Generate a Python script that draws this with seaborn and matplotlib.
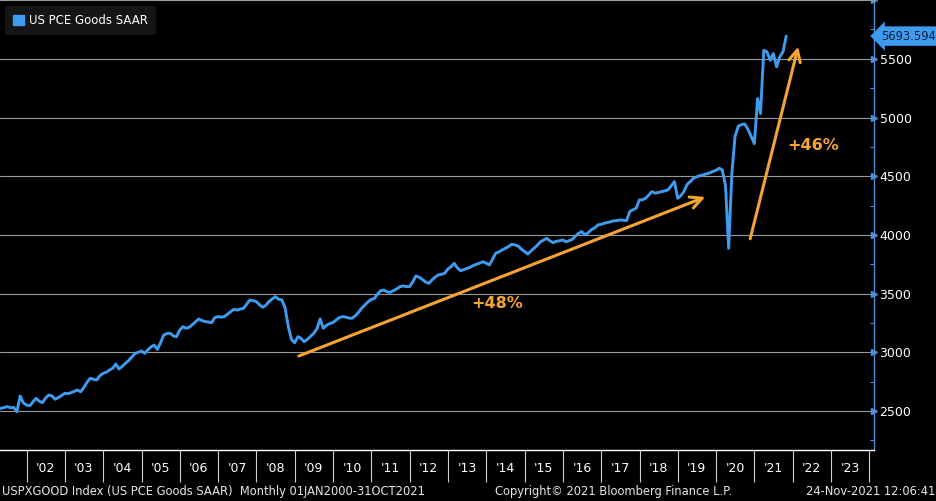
import numpy as np
import pandas as pd
import matplotlib
matplotlib.use("Agg")
import matplotlib.pyplot as plt
import matplotlib.dates as mdates
from matplotlib.patches import Patch
from matplotlib.ticker import FixedLocator, MultipleLocator
import seaborn as sns

# US PCE Goods SAAR, monthly (month-end)
pce_2001 = [2515, 2523, 2530, 2537, 2528, 2531, 2494, 2628, 2570, 2551]  # Mar-Dec
pce_2002 = [2545, 2575, 2608, 2585, 2571, 2610, 2636, 2628, 2600, 2615, 2632, 2651]
pce_2003 = [2648, 2656, 2668, 2679, 2664, 2700, 2745, 2779, 2770, 2764, 2800, 2821]
pce_2004 = [2830, 2849, 2864, 2900, 2858, 2880, 2906, 2930, 2960, 2991, 3000, 3011]
pce_2005 = [2991, 3020, 3045, 3062, 3025, 3080, 3147, 3160, 3162, 3140, 3133, 3190]
pce_2006 = [3218, 3205, 3213, 3235, 3260, 3284, 3270, 3262, 3258, 3253, 3295, 3304]
pce_2007 = [3300, 3304, 3325, 3345, 3366, 3360, 3368, 3375, 3410, 3446, 3440, 3432]
pce_2008 = [3405, 3384, 3400, 3432, 3455, 3474, 3452, 3446, 3380, 3219, 3110, 3082]
pce_2009 = [3133, 3120, 3091, 3110, 3135, 3162, 3200, 3284, 3205, 3230, 3245, 3253]
pce_2010 = [3275, 3295, 3304, 3300, 3292, 3290, 3310, 3340, 3375, 3403, 3430, 3450]
pce_2011 = [3460, 3495, 3525, 3530, 3515, 3511, 3525, 3540, 3559, 3565, 3560, 3559]
pce_2012 = [3600, 3650, 3640, 3622, 3600, 3587, 3615, 3640, 3659, 3665, 3673, 3710]
pce_2013 = [3730, 3758, 3720, 3695, 3705, 3715, 3724, 3740, 3750, 3760, 3772, 3760]
pce_2014 = [3744, 3790, 3843, 3855, 3871, 3885, 3900, 3920, 3915, 3905, 3880, 3860]
pce_2015 = [3837, 3860, 3886, 3910, 3940, 3955, 3971, 3950, 3934, 3945, 3950, 3957]
pce_2016 = [3942, 3950, 3963, 3990, 4014, 4028, 4000, 4020, 4045, 4060, 4085, 4090]
pce_2017 = [4100, 4105, 4113, 4120, 4122, 4128, 4125, 4122, 4199, 4215, 4227, 4298]
pce_2018 = [4300, 4312, 4340, 4369, 4355, 4362, 4369, 4375, 4384, 4420, 4454, 4312]
pce_2019 = [4335, 4369, 4430, 4454, 4483, 4495, 4505, 4511, 4520, 4528, 4540, 4550]
pce_2020 = [4568, 4554, 4420, 3886, 4528, 4840, 4926, 4940, 4945, 4900, 4840, 4778]
pce_2021 = [5162, 5034, 5573, 5559, 5488, 5545, 5432, 5517, 5559, 5693.594]  # Jan-Oct

values = (pce_2001 + pce_2002 + pce_2003 + pce_2004 + pce_2005 + pce_2006 + pce_2007
          + pce_2008 + pce_2009 + pce_2010 + pce_2011 + pce_2012 + pce_2013 + pce_2014
          + pce_2015 + pce_2016 + pce_2017 + pce_2018 + pce_2019 + pce_2020 + pce_2021)
dates = pd.date_range("2001-03-31", periods=len(values), freq="ME")
df = pd.DataFrame({"date": dates, "value": values})

label_years = list(range(2002, 2024))
y_major = [2500, 3000, 3500, 4000, 4500, 5000, 5500]

# arrows (start, end) and their labels
arrow1 = (("2009-01-15", 2960), ("2019-10-15", 4332))
arrow2 = (("2020-11-15", 3944), ("2022-03-01", 5627))
label1 = ("+48%", "2014-04-15", 3420)
label2 = ("+46%", "2022-07-15", 4758)

BLUE = "#3e9cf0"
ORANGE = "#f5a333"
AXBLUE = "#4a8fd8"

sns.set_theme(style="dark", rc={"axes.facecolor": "black", "figure.facecolor": "black"})
plt.rcParams["font.family"] = ["DejaVu Sans"]

fig = plt.figure(figsize=(9.37, 5.01), dpi=100)
ax = fig.add_axes([0, 0.1018, 874 / 937, 0.8982])

sns.lineplot(data=df, x="date", y="value", ax=ax, color=BLUE, lw=2.1)

ax.set_xlim(pd.Timestamp("2001-04-22"), pd.Timestamp("2024-02-15"))
ax.set_ylim(2168, 6001)
ax.set_xlabel("")
ax.set_ylabel("")

# y axis on the right, Bloomberg style
ax.yaxis.tick_right()
ax.set_yticks(y_major)
ax.yaxis.set_minor_locator(MultipleLocator(250))
ax.tick_params(axis="y", which="major", length=0, pad=4, labelsize=9, labelcolor="white")
ax.tick_params(axis="y", which="minor", right=True, direction="in", length=3, width=0.8, color=AXBLUE)
ax.grid(axis="y", which="major", color="#9a9a9a", lw=0.8)
ax.grid(axis="x", visible=False)
ax.plot([1.0] * (len(y_major) + 1), y_major + [6000], marker=">", ms=5, color=AXBLUE, lw=0,
        transform=ax.get_yaxis_transform(), clip_on=False)

# x axis: separators at year starts, labels mid-year
ax.xaxis.set_major_locator(mdates.YearLocator())
ax.xaxis.set_major_formatter(plt.NullFormatter())
ax.xaxis.set_minor_locator(FixedLocator([mdates.date2num(pd.Timestamp(f"{y}-07-01")) for y in label_years]))
ax.xaxis.set_minor_formatter(mdates.DateFormatter("'%y"))
ax.tick_params(axis="x", which="major", bottom=True, direction="out", length=23, width=0.8, color="#cfcfcf")
ax.tick_params(axis="x", which="minor", bottom=True, length=0, pad=9, labelsize=9, labelcolor="white")

ax.spines["left"].set_visible(False)
ax.spines["top"].set_color("#9a9a9a")
ax.spines["top"].set_linewidth(0.8)
ax.spines["right"].set_color(AXBLUE)
ax.spines["right"].set_linewidth(1.0)
ax.spines["bottom"].set_color("white")
ax.spines["bottom"].set_linewidth(1.0)

# last value tag
ax.annotate(f"{values[-1]:.3f}", xy=(1.0, values[-1]), xycoords=ax.get_yaxis_transform(),
            xytext=(5, 0), textcoords="offset points", va="center", ha="left",
            fontsize=8.3, color="#0b1e33", annotation_clip=False,
            bbox=dict(boxstyle="larrow,pad=0.28", fc=BLUE, ec="none"))

# orange arrows and labels
for (s, e) in [arrow1, arrow2]:
    ax.annotate("", xy=(pd.Timestamp(e[0]), e[1]), xytext=(pd.Timestamp(s[0]), s[1]),
                arrowprops=dict(arrowstyle="->,head_length=0.7,head_width=0.35", color=ORANGE, lw=2.2),
                annotation_clip=False)
for txt, d, v in [label1, label2]:
    ax.text(pd.Timestamp(d), v, txt, color=ORANGE, fontsize=11.5, fontweight="bold",
            ha="center", va="center")

# legend
leg = ax.legend(handles=[Patch(color=BLUE, label="US PCE Goods SAAR")], loc="upper left",
                bbox_to_anchor=(0.003, 0.993), frameon=True, fontsize=8.5, handlelength=0.9,
                handleheight=0.9, handletextpad=0.4, borderpad=0.7, borderaxespad=0.2)
leg.get_frame().set_facecolor("#151515")
leg.get_frame().set_edgecolor("none")
leg.get_frame().set_alpha(1)
for t in leg.get_texts():
    t.set_color("white")

# footer
fig.text(0.002, 0.018, "USPXGOOD Index (US PCE Goods SAAR)  Monthly 01JAN2000-31OCT2021",
         color="#e6e6e6", fontsize=8.3, ha="left", va="center")
fig.text(0.655, 0.018, "Copyright\u00a9 2021 Bloomberg Finance L.P.",
         color="#e6e6e6", fontsize=8.3, ha="center", va="center")
fig.text(0.998, 0.018, "24-Nov-2021 12:06:41",
         color="#e6e6e6", fontsize=8.3, ha="right", va="center")

fig.savefig("out.png", dpi=100, facecolor="black")
